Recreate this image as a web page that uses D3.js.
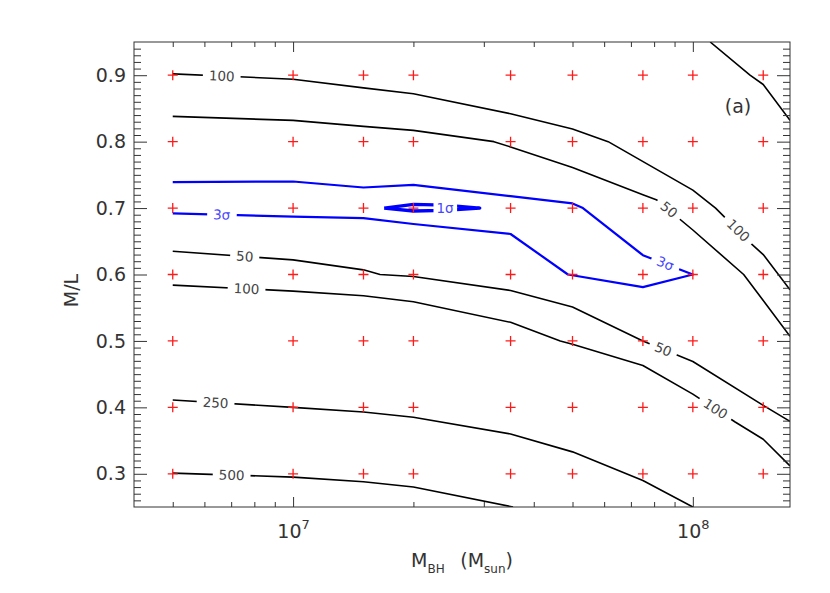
<!DOCTYPE html>
<html><head><meta charset="utf-8">
<script src="https://cdn.jsdelivr.net/npm/d3@7"></script>
<style>
body{margin:0;background:#fff}
text{font-family:"DejaVu Sans","Liberation Sans",sans-serif}
</style>
</head><body>
<svg id="c" width="830" height="593"></svg>
<script>
// ---------------- data ----------------
const massGrid = [5e6, 1e7, 1.5e7, 2e7, 3.5e7, 5e7, 7.5e7, 1e8, 1.5e8];
const mlGrid = [0.3, 0.4, 0.5, 0.6, 0.7, 0.8, 0.9];

const xMajorTicks = [1e7, 1e8];
const xMinorTicks = [5e6, 6e6, 7e6, 8e6, 9e6, 2e7, 3e7, 4e7, 5e7, 6e7, 7e7, 8e7, 9e7];
const yMajorTicks = [0.3, 0.4, 0.5, 0.6, 0.7, 0.8, 0.9];
const yMinorTicks = d3.range(26, 95).map(i => i / 100).filter(v => Math.round(v * 100) % 10 !== 0);

// chi^2 contours (M_BH, M/L)
const chi100Upper = [[5e6,0.902],[1e7,0.894],[1.5e7,0.881],[2e7,0.872],[3.5e7,0.842],[5e7,0.819],[6.14e7,0.80],[1e8,0.727],[1.14e8,0.70],[1.39e8,0.648],[1.5e8,0.63],[1.75e8,0.577]];
const chi50Upper  = [[5e6,0.838],[1e7,0.832],[1.5e7,0.823],[2e7,0.817],[3.18e7,0.80],[3.5e7,0.792],[5e7,0.761],[7.5e7,0.72],[8.13e7,0.712],[1e8,0.667],[1.34e8,0.60],[1.5e8,0.561],[1.75e8,0.507]];
const chiCorner   = [[1.105e8,0.95],[1.39e8,0.90],[1.5e8,0.886],[1.75e8,0.832]];
const chi50Lower  = [[5e6,0.635],[1e7,0.622],[1.5e7,0.607],[1.65e7,0.60],[2e7,0.597],[3.5e7,0.576],[5e7,0.551],[7.5e7,0.50],[1e8,0.469],[1.5e8,0.403],[1.75e8,0.379]];
const chi100Lower = [[5e6,0.584],[1e7,0.575],[1.5e7,0.568],[2e7,0.559],[3.5e7,0.528],[4.66e7,0.50],[5e7,0.495],[7.5e7,0.463],[1e8,0.420],[1.276e8,0.378],[1.5e8,0.352],[1.75e8,0.312]];
const chi250      = [[5e6,0.411],[1e7,0.40],[1.5e7,0.393],[2e7,0.385],[3.5e7,0.36],[5e7,0.333],[7.5e7,0.29],[1e8,0.25]];
const chi500      = [[5e6,0.301],[1e7,0.295],[1.5e7,0.288],[2e7,0.28],[3.55e7,0.25]];
const sigma3      = [[5e6,0.739],[1e7,0.740],[1.5e7,0.731],[2e7,0.735],[3.5e7,0.718],[5e7,0.707],[5.31e7,0.70],[7.5e7,0.629],[1e8,0.60],
                     [7.5e7,0.581],[4.87e7,0.60],[3.5e7,0.661],[2e7,0.676],[1.5e7,0.685],[1e7,0.687],[5e6,0.692]];
const sigma1      = [[1.69e7,0.700],[2e7,0.7055],[2.4e7,0.7045],[2.93e7,0.700],[2.4e7,0.6965],[2e7,0.6955],[1.69e7,0.700]];

const blackLines = [chi100Upper, chi50Upper, chiCorner, chi50Lower, chi100Lower, chi250, chi500];

// contour labels: text, line, position (M_BH, M/L)
const contourLabels = [
  {text:"100", line:chi100Upper, M:6.63e6, ML:0.899, blue:false},
  {text:"50",  line:chi50Upper,  M:8.72e7, ML:0.698, blue:false},
  {text:"100", line:chi100Upper, M:1.30e8, ML:0.6665, blue:false},
  {text:"50",  line:chi50Lower,  M:7.57e6, ML:0.6273, blue:false},
  {text:"100", line:chi100Lower, M:7.65e6, ML:0.5787, blue:false},
  {text:"50",  line:chi50Lower,  M:8.43e7, ML:0.4875, blue:false},
  {text:"100", line:chi100Lower, M:1.14e8, ML:0.398, blue:false},
  {text:"250", line:chi250,      M:6.4e6,  ML:0.407, blue:false},
  {text:"500", line:chi500,      M:7.02e6, ML:0.2982, blue:false},
  {text:"3σ",  line:sigma3,      M:6.63e6, ML:0.690, blue:true},
  {text:"3σ",  line:sigma3,      M:8.53e7, ML:0.6167, blue:true},
  {text:"1σ",  line:sigma1,      M:2.4e7,  ML:0.700, blue:true, flat:true}
];

// ---------------- chart ----------------
const svg = d3.select("#c");
const X0 = 134, X1 = 790, Y0 = 42, Y1 = 507;
const x = d3.scaleLog().domain([4e6, 1.75e8]).range([X0, X1]);
const y = d3.scaleLinear().domain([0.25, 0.95]).range([Y1, Y0]);
const axisColor = "#333";
const textColor = "#333";

svg.append("defs").append("clipPath").attr("id","clip")
  .append("rect").attr("x",X0).attr("y",Y0).attr("width",X1-X0).attr("height",Y1-Y0);

const plot = svg.append("g").attr("clip-path","url(#clip)");
const line = d3.line().x(d => x(d[0])).y(d => y(d[1]));

plot.selectAll("path.black").data(blackLines).join("path")
  .attr("class","black").attr("d", line)
  .attr("fill","none").attr("stroke","#000").attr("stroke-width",1.6).attr("stroke-linejoin","round");
plot.append("path").attr("d", line(sigma3)).attr("fill","none").attr("stroke","#0000ff").attr("stroke-width",2.2).attr("stroke-linejoin","round");
plot.append("path").attr("d", line(sigma1)).attr("fill","none").attr("stroke","#0000ff").attr("stroke-width",3.4).attr("stroke-linejoin","round");

// labels
function angleFor(lbl){
  if (lbl.flat) return 0;
  const px = x(lbl.M), py = y(lbl.ML);
  let best = null, bd = Infinity;
  for (let i = 0; i < lbl.line.length - 1; i++){
    const ax = x(lbl.line[i][0]), ay = y(lbl.line[i][1]);
    const bx = x(lbl.line[i+1][0]), by = y(lbl.line[i+1][1]);
    const dx = bx-ax, dy = by-ay, L2 = dx*dx+dy*dy;
    let t = ((px-ax)*dx + (py-ay)*dy) / L2; t = Math.max(0, Math.min(1, t));
    const qx = ax+t*dx, qy = ay+t*dy, d = (qx-px)**2 + (qy-py)**2;
    if (d < bd){ bd = d; best = [dx, dy]; }
  }
  let a = Math.atan2(best[1], best[0]) * 180 / Math.PI;
  if (a > 90) a -= 180; if (a < -90) a += 180;
  return a;
}
const lg = svg.append("g");
contourLabels.forEach(l => {
  const g = lg.append("g").attr("transform", `translate(${x(l.M)},${y(l.ML)}) rotate(${angleFor(l)})`);
  const bg = g.append("rect").attr("fill","#fff");
  const t = g.append("text").text(l.text)
    .attr("text-anchor","middle").attr("dy","0.36em")
    .attr("font-size",13.5)
    .attr("fill", l.blue ? "#4646ff" : "#444");
  const bb = t.node().getBBox();
  const padX = l.flat ? 3 : 6, h = l.flat ? 15 : 10;
  bg.attr("x", bb.x - padX).attr("width", bb.width + 2*padX)
    .attr("y", -h/2).attr("height", h);
});

// model grid markers
const pts = [];
massGrid.forEach(m => mlGrid.forEach(v => pts.push([m, v])));
svg.append("g").selectAll("path").data(pts).join("path")
  .attr("d", d => `M${x(d[0])-5},${y(d[1])}H${x(d[0])+5}M${x(d[0])},${y(d[1])-5}V${y(d[1])+5}`)
  .attr("stroke","#ff1a1a").attr("stroke-width",1.3).attr("fill","none");

// axes
function styleAxis(g){
  g.select(".domain").remove();
  g.selectAll("line").attr("stroke", axisColor).attr("stroke-width",1);
  g.attr("font-family", null).attr("font-size", null);
}
svg.append("g").attr("transform",`translate(0,${Y1})`)
  .call(d3.axisBottom(x).tickValues(xMinorTicks).tickSize(-5).tickSizeOuter(0).tickFormat("")).call(styleAxis);
svg.append("g").attr("transform",`translate(0,${Y0})`)
  .call(d3.axisTop(x).tickValues(xMinorTicks).tickSize(-5).tickSizeOuter(0).tickFormat("")).call(styleAxis);
svg.append("g").attr("transform",`translate(0,${Y0})`)
  .call(d3.axisTop(x).tickValues(xMajorTicks).tickSize(-10).tickSizeOuter(0).tickFormat("")).call(styleAxis);
const xb = svg.append("g").attr("transform",`translate(0,${Y1})`)
  .call(d3.axisBottom(x).tickValues(xMajorTicks).tickSize(-10).tickSizeOuter(0).tickPadding(18).tickFormat(""))
  .call(styleAxis);
xb.selectAll(".tick text").each(function(d){
  const t = d3.select(this).attr("font-size",19).attr("fill",textColor).attr("dy","0.71em");
  t.append("tspan").text("10");
  t.append("tspan").attr("font-size",13).attr("dy",-9).text(Math.round(Math.log10(d)));
});

svg.append("g").attr("transform",`translate(${X0},0)`)
  .call(d3.axisLeft(y).tickValues(yMinorTicks).tickSize(-7).tickSizeOuter(0).tickFormat("")).call(styleAxis);
svg.append("g").attr("transform",`translate(${X1},0)`)
  .call(d3.axisRight(y).tickValues(yMinorTicks).tickSize(-7).tickSizeOuter(0).tickFormat("")).call(styleAxis);
svg.append("g").attr("transform",`translate(${X1},0)`)
  .call(d3.axisRight(y).tickValues(yMajorTicks).tickSize(-13).tickSizeOuter(0).tickFormat("")).call(styleAxis);
const yl = svg.append("g").attr("transform",`translate(${X0},0)`)
  .call(d3.axisLeft(y).tickValues(yMajorTicks).tickSize(-13).tickSizeOuter(0).tickPadding(8).tickFormat(d3.format(".1f")))
  .call(styleAxis);
yl.selectAll(".tick text").attr("font-size",19).attr("fill",textColor);

// frame
svg.append("rect").attr("x",X0).attr("y",Y0).attr("width",X1-X0).attr("height",Y1-Y0)
  .attr("fill","none").attr("stroke",axisColor).attr("stroke-width",1);

// titles
const xt = svg.append("text").attr("x",(X0+X1)/2).attr("y",567).attr("text-anchor","middle")
  .attr("font-size",19).attr("fill",textColor);
xt.append("tspan").text("M");
xt.append("tspan").attr("font-size",12).attr("dy",6).text("BH");
xt.append("tspan").attr("dy",-6).text("\u2002 (M");
xt.append("tspan").attr("font-size",12).attr("dy",6).text("sun");
xt.append("tspan").attr("dy",-6).text(")");

svg.append("text").attr("transform",`translate(78,${(Y0+Y1)/2+16}) rotate(-90)`)
  .attr("text-anchor","middle").attr("font-size",19).attr("fill",textColor).text("M/L");

svg.append("text").attr("x",738).attr("y",113).attr("text-anchor","middle")
  .attr("font-size",19).attr("fill",textColor).text("(a)");
</script>
</body></html>
